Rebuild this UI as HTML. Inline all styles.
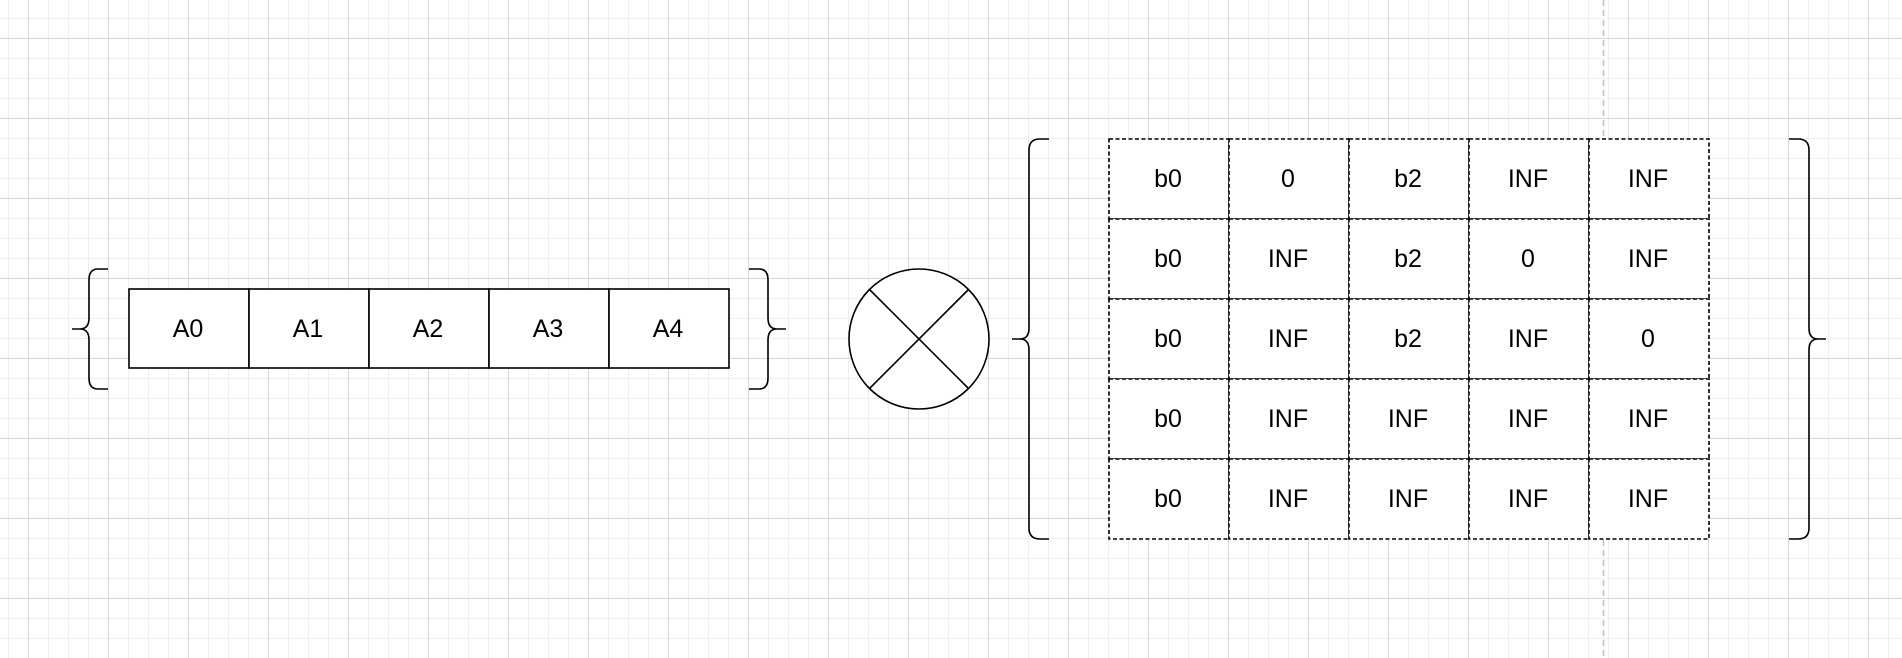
<!DOCTYPE html>
<html><head><meta charset="utf-8"><style>
html,body{margin:0;padding:0;background:#fff;}
svg{display:block;}
text{font-family:"Liberation Sans",Arial,sans-serif;font-size:25px;fill:#000;text-anchor:middle;dominant-baseline:central;}
</style></head><body>
<svg width="1902" height="658" viewBox="0 0 1902 658" xmlns="http://www.w3.org/2000/svg">
<defs>
<pattern id="minor" x="8" y="18" width="20" height="20" patternUnits="userSpaceOnUse">
<path d="M0 0.5H20M0.5 0V20" stroke="#eeeeee" stroke-width="1" fill="none"/>
</pattern>
<pattern id="major" x="28" y="38" width="80" height="80" patternUnits="userSpaceOnUse">
<path d="M0 0.5H80M0.5 0V80" stroke="#d6d6d6" stroke-width="1" fill="none"/>
</pattern>
</defs>
<rect width="1902" height="658" fill="url(#minor)"/>
<rect width="1902" height="658" fill="url(#major)"/>
<line x1="1603.5" y1="0" x2="1603.5" y2="658" stroke="#c0c0c0" stroke-width="1.5" stroke-dasharray="6 4"/>

<g>
<path d="M108 269 H98 Q89 269 89 280 V318 Q89 329 80 329 H72 M80 329 Q89 329 89 340 V378 Q89 389 98 389 H108" fill="none" stroke="#000" stroke-width="1.6"/>
<path d="M749 269 H759 Q768 269 768 280 V318 Q768 329 777 329 H786 M777 329 Q768 329 768 340 V378 Q768 389 759 389 H749" fill="none" stroke="#000" stroke-width="1.6"/>
<g id="vec"></g>
</g>

<g>
<circle cx="919" cy="339" r="70" fill="#fff" stroke="#000" stroke-width="1.6"/>
<line x1="869.5" y1="289.5" x2="968.5" y2="388.5" stroke="#000" stroke-width="1.6"/>
<line x1="968.5" y1="289.5" x2="869.5" y2="388.5" stroke="#000" stroke-width="1.6"/>
</g>

<g>
<path d="M1049 139 H1040 Q1029 139 1029 150 V328 Q1029 339 1020 339 H1012 M1020 339 Q1029 339 1029 350 V528 Q1029 539 1040 539 H1049" fill="none" stroke="#000" stroke-width="1.6"/>
<path d="M1789 139 H1798 Q1809 139 1809 150 V328 Q1809 339 1818 339 H1826 M1818 339 Q1809 339 1809 350 V528 Q1809 539 1798 539 H1789" fill="none" stroke="#000" stroke-width="1.6"/>
<g id="mat"></g>
</g>
</svg>
<script>
const vecLabels = ["A0","A1","A2","A3","A4"];
const matRows = [
 ["b0","0","b2","INF","INF"],
 ["b0","INF","b2","0","INF"],
 ["b0","INF","b2","INF","0"],
 ["b0","INF","INF","INF","INF"],
 ["b0","INF","INF","INF","INF"]
];
const NS="http://www.w3.org/2000/svg";
const vec=document.getElementById('vec');
vecLabels.forEach((t,i)=>{
  const g=document.createElementNS(NS,'g');
  
  
  const r=document.createElementNS(NS,'rect');
  r.setAttribute('x',129+i*120);r.setAttribute('y',289);r.setAttribute('width',120);r.setAttribute('height',79);
  r.setAttribute('fill','#fff');r.setAttribute('stroke','#000');r.setAttribute('stroke-width','1.6');
  const tx=document.createElementNS(NS,'text');
  tx.setAttribute('x',188+i*120);tx.setAttribute('y',329);tx.textContent=t;
  g.appendChild(r);g.appendChild(tx);vec.appendChild(g);
});
const mat=document.getElementById('mat');
matRows.forEach((row,ri)=>{
  row.forEach((t,ci)=>{
    const g=document.createElementNS(NS,'g');
    
    
    const r=document.createElementNS(NS,'rect');
    r.setAttribute('x',1109+ci*120);r.setAttribute('y',139+ri*80);r.setAttribute('width',120);r.setAttribute('height',80);
    r.setAttribute('fill','#fff');r.setAttribute('stroke','#000');r.setAttribute('stroke-width','1.6');r.setAttribute('stroke-dasharray','4 2.5');
    const tx=document.createElementNS(NS,'text');
    tx.setAttribute('x',1168+ci*120);tx.setAttribute('y',179+ri*80);tx.textContent=t;
    g.appendChild(r);g.appendChild(tx);mat.appendChild(g);
  });
});
</script>
</body></html>
